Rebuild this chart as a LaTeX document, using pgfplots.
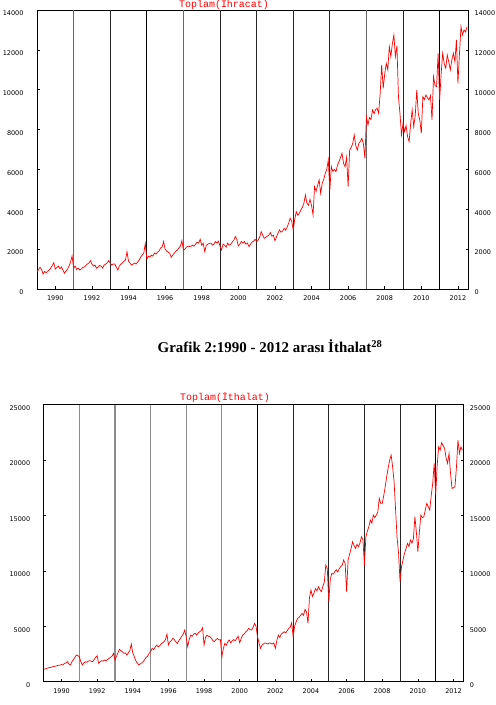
\documentclass[border=0pt]{standalone}
\usepackage{pgfplots}
\pgfplotsset{compat=1.18}
\usepackage{pgfplotstable}
\usepackage{fontspec}
\setmainfont{Liberation Serif}
\newfontfamily\tickfont{DejaVu Sans}
\newfontfamily\titlefont{Liberation Mono}

% Monthly totals, January 1989 onwards (one row per month)
\pgfplotstableread[row sep=\\]{
v\\
870\\960\\1090\\980\\750\\880\\820\\900\\950\\1050\\1180\\1320\\
1000\\1080\\1150\\1020\\1100\\950\\790\\900\\1000\\1150\\1350\\1655\\
1040\\1150\\980\\1050\\950\\1000\\1080\\1100\\1180\\1250\\1300\\1420\\
1250\\1150\\1200\\1040\\1100\\1180\\1150\\1050\\1200\\1250\\1300\\1420\\
1300\\1200\\1255\\1250\\1100\\950\\1150\\1250\\1300\\1400\\1450\\1870\\
1400\\1300\\1200\\1250\\1300\\1255\\1350\\1450\\1600\\1700\\1800\\2290\\
1490\\1650\\1600\\1700\\1650\\1800\\1750\\1850\\1900\\2050\\2100\\2380\\
2000\\1900\\1850\\1800\\1590\\1700\\1800\\1900\\1950\\2050\\2150\\2425\\
1960\\2000\\2100\\2150\\2130\\2150\\2200\\2150\\2250\\2350\\2300\\2495\\
2200\\2300\\1870\\2200\\2250\\2290\\2300\\2200\\2250\\2380\\2300\\2400\\
2150\\1960\\2250\\2200\\2100\\2300\\2200\\2250\\2350\\2450\\2630\\2500\\
2160\\2250\\2380\\2300\\2380\\2250\\2300\\2130\\2250\\2350\\2400\\2495\\
2376\\2450\\2600\\2878\\2700\\2543\\2600\\2650\\2700\\2827\\2650\\2700\\
2426\\2600\\2800\\2961\\2850\\2900\\3045\\2950\\3100\\3300\\3547\\3400\\
2961\\3500\\3881\\3700\\3800\\3965\\4100\\4300\\4718\\4300\\4200\\4500\\
4200\\3714\\5136\\4900\\5200\\5471\\4801\\5300\\5500\\5800\\6000\\6474\\
4969\\6140\\5900\\6000\\5889\\6200\\6400\\6600\\6809\\6300\\6140\\6600\\
5136\\6976\\7100\\7300\\7729\\7200\\6976\\7300\\7400\\7562\\7300\\6558\\
8649\\8231\\8600\\8500\\8984\\8800\\9000\\9068\\8817\\9800\\11243\\10071\\
10800\\11326\\11000\\12163\\11661\\12300\\12748\\11661\\12200\\9653\\8800\\7729\\
8315\\7900\\8200\\7645\\7394\\8300\\8984\\8148\\8700\\9988\\8800\\8482\\
7813\\9653\\9500\\9737\\9600\\9486\\9700\\8482\\10657\\10200\\10155\\11828\\
9486\\10800\\11828\\11300\\11075\\11745\\11400\\10992\\11500\\11828\\11400\\12497\\
10322\\11800\\13166\\12748\\13000\\12900\\13166\\
}\exports

\pgfplotstableread[row sep=\\]{
v\\
1113\\1150\\1200\\1250\\1280\\1300\\1354\\1380\\1400\\1450\\1480\\1500\\
1550\\1504\\1650\\1700\\1805\\1600\\1504\\1800\\2000\\2200\\2406\\2350\\
2256\\1800\\1504\\1700\\1805\\1750\\1850\\1900\\1850\\1805\\2000\\2200\\
2346\\1654\\1800\\1900\\1850\\1955\\1900\\2000\\2100\\2200\\2300\\2557\\
1955\\2300\\2600\\2918\\2800\\2700\\2557\\2600\\2406\\2600\\2800\\3399\\
2600\\2256\\1900\\1700\\1504\\1600\\1700\\1805\\2000\\2200\\2300\\2557\\
2700\\3008\\2900\\3100\\3300\\3150\\3219\\3400\\3500\\3600\\3800\\4301\\
3309\\3600\\3700\\3910\\3800\\3600\\3459\\3700\\3900\\4100\\4300\\4662\\
4000\\3158\\3800\\4211\\4100\\4300\\4362\\4200\\4400\\4500\\4600\\4873\\
3309\\4000\\4211\\4100\\4060\\3900\\3700\\3610\\3800\\3900\\3760\\3800\\
2256\\3000\\3459\\3300\\3600\\3760\\3500\\3700\\3800\\3700\\3910\\4100\\
3519\\3900\\4211\\4300\\4500\\4600\\4813\\4700\\4662\\4900\\5264\\5000\\
4060\\3500\\3008\\3300\\3400\\3500\\3459\\3400\\3500\\3459\\3400\\3500\\
3008\\3700\\4211\\4000\\4300\\4400\\4512\\4400\\4600\\4813\\4900\\5324\\
4060\\5000\\5400\\5715\\5800\\6000\\6166\\6000\\6527\\6300\\5264\\7600\\
8272\\7700\\7971\\8400\\8200\\8573\\8300\\8122\\8600\\9000\\10528\\10200\\
7219\\9200\\9776\\9700\\9926\\10100\\9900\\10200\\10378\\10500\\10979\\10700\\
8122\\10979\\11500\\12000\\12634\\12300\\12032\\12400\\12182\\12500\\13085\\12800\\
10528\\13085\\13600\\14000\\14589\\14300\\15040\\14800\\15040\\15300\\16544\\16093\\
16093\\16800\\17597\\18500\\19300\\20003\\20454\\19402\\18000\\15491\\13000\\11581\\
9024\\10378\\11000\\11581\\12000\\12483\\12200\\12784\\12500\\12934\\14890\\13500\\
11731\\13500\\15040\\14800\\14890\\15500\\16093\\15800\\15491\\16800\\17898\\19703\\
16845\\19500\\21206\\20905\\21567\\21300\\21056\\20200\\19703\\20604\\18800\\17446\\
17500\\17597\\19402\\21808\\20604\\21200\\20905\\
}\imports

\pgfplotsset{
  panel/.style={
    scale only axis,
    xmin=0, xmax=282.6,
    axis line style={line width=0.8bp},
    tick style={black, line width=0.5bp},
    tick align=inside,
    major tick length=2.5bp,
    tick label style={font=\tickfont\fontsize{6.5}{7}\selectfont},
    /pgf/number format/assume math mode=true,
    /pgf/number format/set thousands separator={},
    scaled y ticks=false,
  },
  leftpanel/.style={
    panel,
    xtick={12,36,...,276},
    xticklabels={1990,1992,1994,1996,1998,2000,2002,2004,2006,2008,2010,2012},
    xtick pos=bottom, ytick pos=left,
    xticklabel style={yshift=-3bp},
    yticklabel style={xshift=-10bp, yshift=-3.5bp},
  },
  rightpanel/.style={
    panel,
    axis x line=none, axis y line*=right,
    yticklabel style={xshift=3bp, yshift=-3.5bp},
  },
  series/.style={red, line width=0.7bp},
  sepA/.style={black!60, line width=0.8bp},
  sepB/.style={black!85, line width=0.8bp},
  sepC/.style={black, line width=1.3bp},
  sepD/.style={black!45, line width=1.2bp},
}

\begin{document}
\begin{tikzpicture}
\useasboundingbox (0,0) rectangle (496bp,705bp);

% ---- exports ----
\begin{axis}[leftpanel, at={(37bp,416bp)}, anchor=south west,
  width=431bp, height=279bp, ymin=0, ymax=14000, ytick={0,2000,...,14000}]
  \addplot[sepA] coordinates {(24,0) (24,14000)};
  \addplot[sepB] coordinates {(48,0) (48,14000)};
  \addplot[sepC] coordinates {(72,0) (72,14000)};
  \addplot[sepA] coordinates {(96,0) (96,14000)};
  \addplot[sepB] coordinates {(120,0) (120,14000)};
  \addplot[sepB] coordinates {(144,0) (144,14000)};
  \addplot[sepB] coordinates {(168,0) (168,14000)};
  \addplot[sepB] coordinates {(192,0) (192,14000)};
  \addplot[sepA] coordinates {(216,0) (216,14000)};
  \addplot[sepB] coordinates {(240,0) (240,14000)};
  \addplot[sepC] coordinates {(264,0) (264,14000)};
  \addplot[series] table[x expr=\coordindex, y=v] {\exports};
\end{axis}
\begin{axis}[rightpanel, at={(37bp,416bp)}, anchor=south west,
  width=431bp, height=279bp, ymin=0, ymax=14000, ytick={0,2000,...,14000}]
\end{axis}
\node[anchor=base, text=red, font=\titlefont\fontsize{10}{11}\selectfont]
  at (224bp,697bp) {Toplam(İhracat)};

% ---- caption ----
\node[anchor=base, font=\bfseries\fontsize{15}{17}\selectfont]
  at (270bp,352bp) {Grafik 2:1990 - 2012 arası İthalat\textsuperscript{28}};

% ---- imports ----
\begin{axis}[leftpanel, at={(43.7bp,23.3bp)}, anchor=south west,
  width=419.6bp, height=277bp, ymin=0, ymax=25000, ytick={0,5000,...,25000}]
  \addplot[sepD] coordinates {(24,0) (24,25000)};
  \addplot[sepD] coordinates {(48,0) (48,25000)};
  \addplot[sepD] coordinates {(72,0) (72,25000)};
  \addplot[sepD] coordinates {(96,0) (96,25000)};
  \addplot[sepD] coordinates {(120,0) (120,25000)};
  \addplot[black, line width=1bp] coordinates {(144,0) (144,25000)};
  \addplot[sepB] coordinates {(168,0) (168,25000)};
  \addplot[sepB] coordinates {(192,0) (192,25000)};
  \addplot[sepB] coordinates {(216,0) (216,25000)};
  \addplot[sepB] coordinates {(240,0) (240,25000)};
  \addplot[sepC] coordinates {(264,0) (264,25000)};
  \addplot[series] table[x expr=\coordindex, y=v] {\imports};
\end{axis}
\begin{axis}[rightpanel, at={(43.7bp,23.3bp)}, anchor=south west,
  width=419.6bp, height=277bp, ymin=0, ymax=25000, ytick={0,5000,...,25000}]
\end{axis}
\node[anchor=base, text=red, font=\titlefont\fontsize{10}{11}\selectfont]
  at (225bp,304bp) {Toplam(İthalat)};
\end{tikzpicture}
\end{document}
